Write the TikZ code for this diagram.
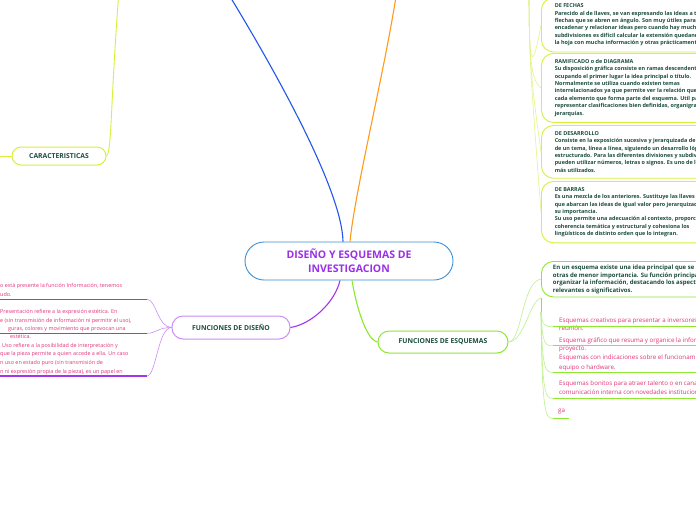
\documentclass[tikz,border=0pt]{standalone}
\usepackage{fontspec}
\setmainfont{Open Sans}
\usetikzlibrary{positioning}
\definecolor{tealtxt}{HTML}{1B4D3E}
\definecolor{pinktxt}{HTML}{E33378}
\definecolor{mainpurple}{HTML}{9B30E6}
\definecolor{mainblue}{HTML}{3D8FD6}
\definecolor{branchblue}{HTML}{2255EE}
\definecolor{branchorange}{HTML}{FF9A1A}
\definecolor{branchpurple}{HTML}{A435EE}
\definecolor{lightpurple}{HTML}{CC8DF6}
\definecolor{branchgreen}{HTML}{8EE830}
\definecolor{lightgreen}{HTML}{BDF28A}
\definecolor{boxyellow}{HTML}{D8F03C}
\definecolor{lightyellow}{HTML}{E3F48A}

\begin{document}
\begin{tikzpicture}[x=1pt, y=-1pt,
    % node styles
    central/.style={draw=mainblue, line width=0.9pt, fill=white, rounded corners=19pt, minimum width=208pt, minimum height=38pt, align=center, text=mainpurple, font=\bfseries\fontsize{10.5}{14}\selectfont},
    topic/.style={draw, line width=1pt, fill=white, text=tealtxt, font=\bfseries\fontsize{6.8}{8}\selectfont, inner sep=0pt},
    infobox/.style={draw=boxyellow, line width=0.9pt, fill=white, rounded corners=12pt, align=left, anchor=north west, text=tealtxt, font=\bfseries\fontsize{5.45}{7.35}\selectfont, inner xsep=13.3pt, inner ysep=6pt},
    pinkitem/.style={align=left, anchor=north west, text=pinktxt, inner sep=0pt},
    mainline/.style={line width=1.1pt},
    subline/.style={line width=0.6pt}
  ]
  \useasboundingbox (0,0) rectangle (696,520);
  \clip (0,0) rectangle (696,520);
  \fill[white] (0,0) rectangle (696,520);

  % --- Topics ---
  \node[central] (center) at (349,261) {DISEÑO Y ESQUEMAS DE\\INVESTIGACION};
  \node[topic, draw=boxyellow, rounded corners=9pt, minimum width=94pt, minimum height=18pt] (caract) at (59,156) {CARACTERISTICAS};
  \node[topic, draw=lightpurple, rounded corners=11pt, minimum width=118pt, minimum height=23pt] (fdis) at (231,327.5) {FUNCIONES DE DISEÑO};
  \node[topic, draw=branchgreen, rounded corners=11pt, minimum width=130pt, minimum height=22pt] (fesq) at (443,342) {FUNCIONES DE ESQUEMAS};

  % free ends outside the page
  \coordinate (topblue) at (226,-10);
  \coordinate (toporange) at (397,-10);
  \coordinate (topcaract) at (119,-10);
  \coordinate (topboxes) at (529,-10);
  \coordinate (leftcaract) at (-5,156);

  % --- Main branches ---
  \draw[mainline, branchblue] ([xshift=-6pt]center.north) .. controls (342,190) and (275,70) .. (topblue);
  \draw[mainline, branchorange] ([xshift=1pt]center.north) .. controls (355,190) and (385,70) .. (toporange);
  \draw[mainline, branchpurple] ([xshift=-9pt]center.south) .. controls (335,302) and (312,324) .. (fdis.east);
  \draw[mainline, branchgreen] ([xshift=3pt]center.south) .. controls (356,305) and (366,340) .. (fesq.west);

  % CARACTERISTICAS
  \draw[boxyellow, line width=0.9pt] (caract.east) .. controls (112,150) and (110,110) .. (topcaract);
  \draw[boxyellow, line width=0.9pt] (caract.west) -- (leftcaract);

  % --- Kinds of schemes (right, top) ---
  \node[infobox] (fechas) at (541,-2.5) {DE FECHAS\\
    Parecido al de llaves, se van expresando las ideas a través\\
    flechas que se abren en ángulo. Son muy útiles para\\
    encadenar y relacionar ideas pero cuando hay muchas\\
    subdivisiones es difícil calcular la extensión quedando\\
    la hoja con mucha información y otras prácticamente};
  \node[infobox] (ramif) at (541,53) {RAMIFICADO o de DIAGRAMA\\
    Su disposición gráfica consiste en ramas descendentes\\
    ocupando el primer lugar la idea principal o título.\\
    Normalmente se utiliza cuando existen temas\\
    interrelacionados ya que permite ver la relación que\\
    cada elemento que forma parte del esquema. Util para\\
    representar clasificaciones bien definidas, organigramas\\
    jerarquías.};
  \node[infobox] (desarr) at (541,125) {DE DESARROLLO\\
    Consiste en la exposición sucesiva y jerarquizada de\\
    de un tema, línea a línea, siguiendo un desarrollo lógico\\
    estructurado. Para las diferentes divisiones y subdivisiones\\
    pueden utilizar números, letras o signos. Es uno de los\\
    más utilizados.};
  \node[infobox] (barras) at (541,181) {DE BARRAS\\
    Es una mezcla de los anteriores. Sustituye las llaves\\
    que abarcan las ideas de igual valor pero jerarquizadas\\
    su importancia.\\
    Su uso permite una adecuación al contexto, proporcional\\
    coherencia temática y estructural y cohesiona los\\
    lingüísticos de distinto orden que lo integran.};

  \foreach \b in {fechas, ramif, desarr, barras}
    \draw[subline, lightyellow] (topboxes) .. controls (529,60) and (531,80) .. (\b.west);

  % --- FUNCIONES DE ESQUEMAS ---
  \node[infobox, draw=branchgreen, font=\bfseries\fontsize{6}{7.5}\selectfont, inner xsep=11.5pt, inner ysep=3.5pt] (idea) at (541,261) {En un esquema existe una idea principal que se\\
    otras de menor importancia. Su función principal\\
    organizar la información, destacando los aspectos\\
    relevantes o significativos.};
  \coordinate (grp) at (541,298);
  \coordinate (grpb) at (541,312);
  \draw[subline, lightgreen] (fesq.east) .. controls (522,342) and (522,281) .. (idea.west);
  \draw[subline, lightgreen] (fesq.east) .. controls (524,342) and (530,300) .. (grp);
  \draw[branchgreen, line width=1pt] (grp) -- (grpb);

  \node[pinkitem, font=\fontsize{6.2}{7.6}\selectfont] (usoA) at (559,318.2) {Esquemas creativos para presentar a inversores en una\\reunión.};
  \node[pinkitem, font=\fontsize{6.2}{8.3}\selectfont] (usoB) at (559,337.5) {Esquema gráfico que resuma y organice la información del\\proyecto.};
  \node[pinkitem, font=\fontsize{6.2}{10}\selectfont] (usoC) at (559,354.8) {Esquemas con indicaciones sobre el funcionamiento del\\equipo o hardware.};
  \node[pinkitem, font=\fontsize{6.2}{8.4}\selectfont] (usoD) at (559,380.8) {Esquemas bonitos para atraer talento o en canales de\\comunicación interna con novedades institucionales};
  \node[pinkitem, anchor=base west, font=\fontsize{6.2}{8}\selectfont] (usoE) at (558,412.6) {ga};

  \foreach \y/\e [count=\i] in {326.7/700, 345.7/700, 372.3/700, 398.3/700, 418.3/569} {
    \coordinate (u\i) at (553,\y);
    \draw[branchgreen, line width=1.1pt] (u\i) -- (\e,\y);
    \draw[subline, lightgreen] (grpb) .. controls (542,\y) and (546,\y) .. (u\i);
  }

  % --- FUNCIONES DE DISEÑO ---
  \node[pinkitem, font=\fontsize{5.4}{8.8}\selectfont] (info) at (0,282.9) {o está presente la función Información, tenemos\\udo.};
  \node[pinkitem, font=\fontsize{5.4}{8.1}\selectfont] (present) at (0,309.6) {Presentación refiere a la expresión estética. En\\
    e (sin transmisión de información ni permitir el uso),\\
    \hspace*{8pt}guras, colores y movimiento que provocan una\\
    \hspace*{10pt}estética.};
  \node[pinkitem, font=\fontsize{5.4}{8.6}\selectfont] (usofn) at (2,342.9) {Uso refiere a la posibilidad de interpretación y\\
    \hspace*{-2pt}que la pieza permite a quien accede a ella. Un caso\\
    \hspace*{-2pt}n uso en estado puro (sin transmisión de\\
    \hspace*{-2pt}n ni expresión propia de la pieza), es un papel en};

  \foreach \y [count=\i] in {299.3, 333.3, 376} {
    \coordinate (d\i) at (147,\y);
    \draw[branchpurple, line width=1.1pt] (-5,\y) -- (d\i);
    \draw[subline, lightpurple] (fdis.west) .. controls (158,327.5) and (156,\y) .. (d\i);
  }
\end{tikzpicture}
\end{document}
